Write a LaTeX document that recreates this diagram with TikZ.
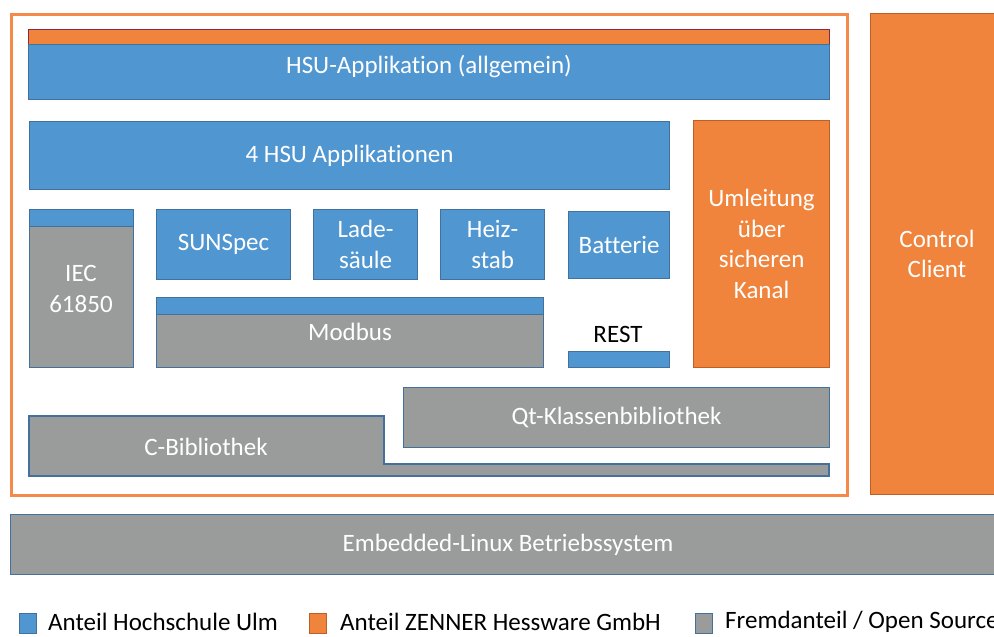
\documentclass[tikz,border=0pt]{standalone}
\usepackage{fontspec}
\setmainfont[Ligatures=NoCommon]{Carlito}
\definecolor{hsublue}{RGB}{80,150,208}
\definecolor{hsuedge}{RGB}{65,113,156}
\definecolor{znorange}{RGB}{240,132,60}
\definecolor{znedge}{RGB}{190,95,35}
\definecolor{frameorange}{RGB}{244,137,74}
\definecolor{stripedge}{RGB}{140,40,70}
\definecolor{osgray}{RGB}{154,156,156}
\tikzset{
  x=1pt, y=-1pt,
  boxfont/.style={font=\fontsize{25}{30.5}\selectfont},
  blk/.style={draw, line width=1.2pt, inner sep=0pt, anchor=north west,
    text=white, align=center, boxfont},
  bluebox/.style={blk, fill=hsublue, draw=hsuedge},
  orangebox/.style={blk, fill=znorange, draw=znedge},
  graybox/.style={blk, fill=osgray, draw=hsuedge},
  boxlabel/.style={text=white, align=center, inner sep=0pt, boxfont},
  legendsq/.style={draw=hsuedge, line width=1.2pt, inner sep=0pt,
    minimum width=17pt, minimum height=20pt, anchor=north west},
  legendtxt/.style={anchor=west, inner sep=0pt, font=\fontsize{25}{28}\selectfont}
}
\begin{document}
\begin{tikzpicture}
\useasboundingbox (0,0) rectangle (994,637);
\fill[white] (0,0) rectangle (994,637);

% frame around the gateway software
\node[draw=frameorange, line width=3pt, inner sep=0pt, anchor=north west,
  minimum width=836pt, minimum height=481pt] (frame) at (10,13) {};

% general application with ZENNER strip on top
\node[orangebox, draw=stripedge, minimum width=801pt, minimum height=15pt] (strip) at (28,29) {};
\node[bluebox, minimum width=801pt, minimum height=55pt] (hsuapp) at (28,44) {};
\node[boxlabel] (hsuapptxt) at (429,67) {HSU-Applikation (allgemein)};

\node[bluebox, minimum width=640pt, minimum height=68pt] (apps) at (29,121) {4 HSU Applikationen};
\node[orangebox, minimum width=136pt, minimum height=247pt] (umleitung) at (693,120) {Umleitung\\über\\sicheren\\Kanal};

% protocol column IEC 61850
\node[bluebox, minimum width=104pt, minimum height=17pt] (ieccap) at (29,209) {};
\node[graybox, minimum width=104pt, minimum height=141pt] (iec) at (29,226) {};
\node[boxlabel] (iectxt) at (81,289) {IEC\\61850};

% individual applications
\node[bluebox, minimum width=134pt, minimum height=70pt] (sunspec) at (156,209) {SUNSpec};
\node[bluebox, minimum width=104pt, minimum height=70pt] (lade) at (313,209) {Lade-\\säule};
\node[bluebox, minimum width=104pt, minimum height=70pt] (heiz) at (440,209) {Heiz-\\stab};
\node[bluebox, minimum width=101pt, minimum height=67pt] (batterie) at (568,211) {Batterie};

% Modbus
\node[bluebox, minimum width=387pt, minimum height=17pt] (modbuscap) at (156,297) {};
\node[graybox, minimum width=387pt, minimum height=53pt] (modbus) at (156,314) {};
\node[boxlabel] (modbustxt) at (350,332) {Modbus};

% REST
\node[bluebox, minimum width=101pt, minimum height=16pt] (restbar) at (568,351) {};
\node[inner sep=0pt, boxfont, text=black] (rest) at (618,334) {REST};

% libraries
\node[graybox, minimum width=426pt, minimum height=60pt] (qt) at (403,387) {Qt-Klassenbibliothek};
\draw[fill=osgray, draw=hsuedge, line width=1.2pt]
  (29,416) -- (384,416) -- (384,464) -- (829,464) -- (829,476) -- (29,476) -- cycle;
\node[boxlabel] (cbib) at (206,447) {C-Bibliothek};

% client and operating system
\node[orangebox, minimum width=140pt, minimum height=481pt] (client) at (870,13) {};
\node[boxlabel] (clienttxt) at (937,254) {Control\\Client};
\node[graybox, minimum width=1000pt, minimum height=60pt] (linux) at (10,514) {};
\node[boxlabel] (linuxtxt) at (508,545) {Embedded-Linux Betriebssystem};

% legend
\node[legendsq, fill=hsublue] (lgblue) at (19,613) {};
\node[legendtxt] (lgbluet) at (48,622) {Anteil Hochschule Ulm};
\node[legendsq, fill=znorange, draw=znedge] (lgorange) at (309,613) {};
\node[legendtxt] (lgoranget) at (340,622) {Anteil ZENNER Hessware GmbH};
\node[legendsq, fill=osgray] (lggray) at (695,613) {};
\node[legendtxt] (lggrayt) at (725,622) {Fremdanteil / Open Source};
\end{tikzpicture}
\end{document}
